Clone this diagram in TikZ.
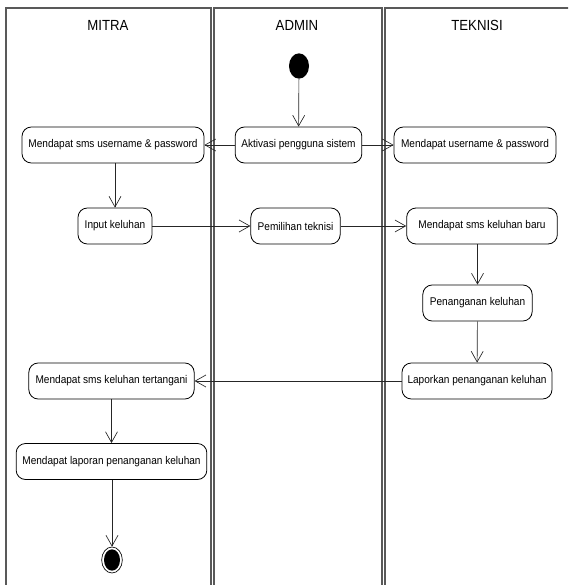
\documentclass[tikz,border=0pt]{standalone}
\usepackage{fontspec}
\setmainfont[FakeStretch=0.9]{Liberation Sans}
\usetikzlibrary{arrows.meta,shapes.geometric}

\begin{document}
\begin{tikzpicture}[x=0.75pt,y=-0.75pt,
  lane/.style={draw=black!65, line width=1.2pt},
  lanetitle/.style={font=\fontsize{11}{13}\selectfont, inner sep=0pt},
  act/.style={draw, rounded corners=7pt, line width=0.6pt, inner sep=0pt,
    font=\fontsize{8.4}{10}\selectfont, minimum height=27pt},
  flow/.style={-{Straight Barb[length=8pt,width=9pt,line width=0.5pt]}, line width=0.5pt, draw=black!85},
  startnode/.style={ellipse, fill=black, minimum width=15pt, minimum height=19pt, inner sep=0pt},
]
\useasboundingbox (0,0) rectangle (568,585);
\clip (0,0) rectangle (568,585);

% swimlanes
\draw[lane] (6,600) -- (6,8) -- (211,8) -- (211,600);
\draw[lane] (214,600) -- (214,8) -- (382,8) -- (382,600);
\draw[lane] (385,600) -- (385,8) -- (580,8);

\node[lanetitle] (tmitra) at (108,25) {MITRA};
\node[lanetitle] (tadmin) at (297,25) {ADMIN};
\node[lanetitle] (tteknisi) at (477,25) {TEKNISI};

% activities
\node[act, minimum width=136.5pt] (ms1) at (113,145) {Mendapat sms username \& password};
\node[act, minimum width=95pt] (akt) at (298.5,145) {Aktivasi pengguna sistem};
\node[act, minimum width=121.5pt] (tk1) at (475,145) {Mendapat username \& password};
\node[act, minimum width=55.5pt] (inp) at (115,226) {Input keluhan};
\node[act, minimum width=67pt] (pem) at (295.5,226) {Pemilihan teknisi};
\node[act, minimum width=113pt] (tk2) at (482,226) {Mendapat sms keluhan baru};
\node[act, minimum width=82pt] (pen) at (477.5,303) {Penanganan keluhan};
\node[act, minimum width=112.5pt] (lap) at (477,381) {Laporkan penanganan keluhan};
\node[act, minimum width=124pt] (ms3) at (111.5,381) {Mendapat sms keluhan tertangani};
\node[act, minimum width=143pt] (ms4) at (111.5,461.5) {Mendapat laporan penanganan keluhan};

% initial and final states
\node[startnode] (start) at (299,66) {};
\node[ellipse, draw, line width=0.5pt, minimum width=15.5pt, minimum height=19.5pt, inner sep=0pt] (finish) at (112,560) {};
\node[ellipse, fill=black, minimum width=12pt, minimum height=16pt, inner sep=0pt] (finishdot) at (finish.center) {};

% control flow
\draw[flow] (start) -- (akt);
\draw[flow] (akt) -- (ms1);
\draw[flow] (akt) -- (tk1);
\draw[flow] (inp.north |- ms1.south) -- (inp.north);
\draw[flow] (inp) -- (pem);
\draw[flow] (pem) -- (tk2);
\draw[flow] (pen.north |- tk2.south) -- (pen.north);
\draw[flow] (pen) -- (lap);
\draw[flow] (lap) -- (ms3);
\draw[flow] (ms3.south) -- (ms4.north -| ms3.south);
\draw[flow] (ms4.south -| finish.north) -- (finish.north);
\end{tikzpicture}
\end{document}
